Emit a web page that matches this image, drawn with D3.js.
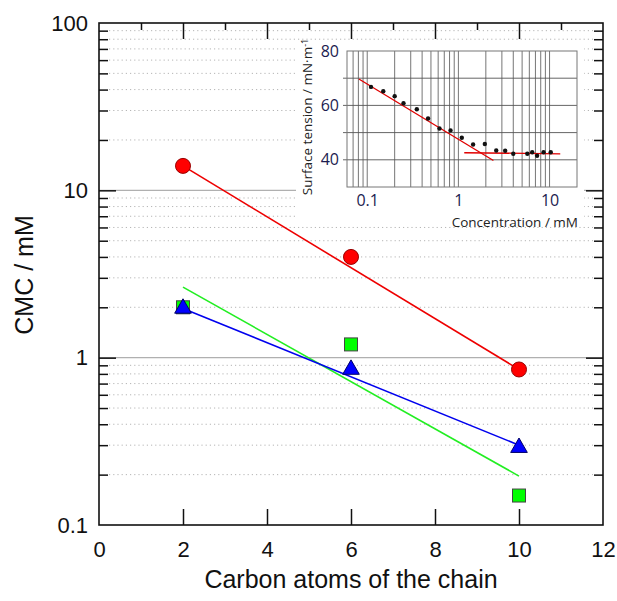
<!DOCTYPE html>
<html>
    <head>
        <meta charset="UTF-8">
        <title>CMC vs chain length</title>
        <script src="https://d3js.org/d3.v7.min.js"></script>
        <style>
            body {
                margin:0;
                padding:0;
                background: #fff;
            }
            svg { display: block; }
        </style>
    </head>
    <body>
        <div id="chart"></div>
        <script>
            // main chart data: CMC against number of carbon atoms
            var carbons = [2, 6, 10];
            var cmcRed = [14, 4.0, 0.85];
            var cmcGreen = [2.0, 1.2, 0.15];
            var cmcBlue = [1.97, 0.85, 0.29];
            // fitted lines (end points)
            var fitCarbons = [2, 10];
            var fitRed = [14, 0.85];
            var fitGreen = [2.64, 0.196];
            var fitBlue = [1.97, 0.30];
            var xTicks = [0, 2, 4, 6, 8, 10, 12];
            var yTicks = [0.1, 1, 10, 100];

            // inset data: surface tension isotherm
            var concentration = [0.11, 0.15, 0.2, 0.25, 0.35, 0.465, 0.62, 0.82, 1.09, 1.45, 1.95, 2.6, 3.26, 4.0, 5.7, 6.45, 7.3, 8.6, 10.3];
            var surfaceTension = [66.8, 65.2, 63.4, 60.8, 58.6, 55.2, 51.5, 50.8, 48.1, 45.6, 45.8, 43.4, 43.3, 42.2, 42.2, 42.8, 41.5, 42.8, 42.8];
            var fitSlopeConc = [0.081, 2.42];
            var fitSlopeTension = [69.7, 39.75];
            var fitFlatConc = [1.16, 13.1];
            var fitFlatTension = [42.6, 42.2];
            var insetXTicks = [0.1, 1, 10];
            var insetYTicks = [40, 60, 80];

            var svgWidth = 617, svgHeight = 601;
            var svg = d3.select('#chart').append('svg')
                .attr('width', svgWidth)
                .attr('height', svgHeight);

            var mainFont = '"Liberation Sans", Arial, sans-serif';
            var insetFont = '"Open Sans", "Noto Sans", sans-serif';

            // plot box (note: "top" is a reserved window property, so prefix names)
            var mLeft = 99, mRight = 603, mTop = 23, mBottom = 525;
            var x = d3.scaleLinear().domain([0, 12]).range([mLeft, mRight]);
            var y = d3.scaleLog().domain([0.1, 100]).range([mBottom, mTop]);

            // minor values of the log axis
            var minorY = [];
            [0.1, 1, 10].forEach(function (dec) {
                for (var k = 2; k <= 9; k++) minorY.push(+(k * dec).toPrecision(3));
            });

            // dotted grid lines at minor values, solid grey at 1 and 10
            svg.append('g').selectAll('line')
                .data(minorY)
                .join('line')
                .attr('x1', mLeft + 10).attr('x2', mRight - 10)
                .attr('y1', d => y(d)).attr('y2', d => y(d))
                .style('stroke', '#b5b5b5')
                .style('stroke-width', 1)
                .style('stroke-dasharray', '1.2 3');
            svg.append('g').selectAll('line')
                .data([1, 10])
                .join('line')
                .attr('x1', mLeft).attr('x2', mRight)
                .attr('y1', d => y(d)).attr('y2', d => y(d))
                .style('stroke', '#b0b0b0')
                .style('stroke-width', 1.2);

            // tick marks drawn with d3 axes, pointing inwards
            function tickAxis(axis, transform) {
                var g = svg.append('g').attr('transform', transform).call(axis);
                g.select('.domain').remove();
                g.selectAll('text').remove();
                g.selectAll('line').style('stroke', '#111').style('stroke-width', 1.5);
                return g;
            }
            tickAxis(d3.axisLeft(y).tickValues([1, 10]).tickSize(-17), `translate(${mLeft},0)`);
            tickAxis(d3.axisLeft(y).tickValues(minorY).tickSize(-9), `translate(${mLeft},0)`);
            tickAxis(d3.axisRight(y).tickValues([1, 10]).tickSize(-17), `translate(${mRight},0)`);
            tickAxis(d3.axisRight(y).tickValues(minorY).tickSize(-9), `translate(${mRight},0)`);
            tickAxis(d3.axisBottom(x).tickValues([2, 4, 6, 8, 10]).tickSize(-16), `translate(0,${mBottom})`);
            tickAxis(d3.axisTop(x).tickValues([2, 4, 6, 8, 10]).tickSize(-16), `translate(0,${mTop})`);
            tickAxis(d3.axisTop(x).tickValues([1, 3, 5, 7, 9, 11]).tickSize(-7), `translate(0,${mTop})`);

            // tick labels
            var yLab = svg.append('g').attr('transform', `translate(${mLeft},0)`)
                .call(d3.axisLeft(y).tickValues(yTicks).tickSize(0).tickPadding(11).tickFormat(d3.format('~g')));
            yLab.select('.domain').remove();
            yLab.selectAll('text').style('font-family', mainFont).style('font-size', '22px').style('fill', '#111');

            var xLab = svg.append('g').attr('transform', `translate(0,${mBottom})`)
                .call(d3.axisBottom(x).tickValues(xTicks).tickSize(0).tickPadding(16));
            xLab.select('.domain').remove();
            xLab.selectAll('text').style('font-family', mainFont).style('font-size', '22px').style('fill', '#111');

            // axis titles
            svg.append('text')
                .attr('x', (mLeft + mRight) / 2)
                .attr('y', 588)
                .attr('text-anchor', 'middle')
                .style('font-family', mainFont)
                .style('font-size', '25px')
                .style('fill', '#111')
                .text('Carbon atoms of the chain');
            svg.append('text')
                .attr('transform', 'translate(33,275) rotate(-90)')
                .attr('text-anchor', 'middle')
                .style('font-family', mainFont)
                .style('font-size', '25px')
                .style('fill', '#111')
                .text('CMC / mM');

            // fitted lines
            var fitLine = d3.line()
                .x(d => x(d[0]))
                .y(d => y(d[1]));
            [[fitGreen, '#22ee22'], [fitBlue, '#0000ee'], [fitRed, '#ee0000']].forEach(function (f) {
                svg.append('path')
                    .datum(fitCarbons.map((c, i) => [c, f[0][i]]))
                    .attr('d', fitLine)
                    .style('fill', 'none')
                    .style('stroke', f[1])
                    .style('stroke-width', 1.6);
            });

            // markers
            svg.append('g').selectAll('rect')
                .data(carbons.map((c, i) => [c, cmcGreen[i]]))
                .join('rect')
                .attr('x', d => x(d[0]) - 6.5)
                .attr('y', d => y(d[1]) - 6.5)
                .attr('width', 13).attr('height', 13)
                .style('fill', '#00ff00')
                .style('stroke', '#444')
                .style('stroke-width', 1);
            svg.append('g').selectAll('path')
                .data(carbons.map((c, i) => [c, cmcBlue[i]]))
                .join('path')
                .attr('transform', d => `translate(${x(d[0])},${y(d[1])})`)
                .attr('d', d3.symbol(d3.symbolTriangle, 120))
                .style('fill', '#0000ff')
                .style('stroke', '#000066')
                .style('stroke-width', 1);
            svg.append('g').selectAll('circle')
                .data(carbons.map((c, i) => [c, cmcRed[i]]))
                .join('circle')
                .attr('cx', d => x(d[0]))
                .attr('cy', d => y(d[1]))
                .attr('r', 7.5)
                .style('fill', '#ff0000')
                .style('stroke', '#990000')
                .style('stroke-width', 1);

            // ---------------- inset ----------------
            svg.append('rect')
                .attr('x', 296).attr('y', 44)
                .attr('width', 288).attr('height', 182)
                .style('fill', '#fff');

            var iLeft = 347, iRight = 577, iTop = 51, iBottom = 187;
            var ix = d3.scaleLog().domain([0.06, 20]).range([iLeft, iRight]);
            var iy = d3.scaleLinear().domain([30, 80]).range([iBottom, iTop]);

            // vertical grid at every minor value of the log axis
            var insetMinorX = [];
            [0.01, 0.1, 1, 10].forEach(function (dec) {
                for (var k = 1; k <= 9; k++) {
                    var v = +(k * dec).toPrecision(3);
                    if (v > 0.06 && v < 20) insetMinorX.push(v);
                }
            });
            var ig = svg.append('g');
            ig.selectAll('line.vx')
                .data(insetMinorX)
                .join('line')
                .attr('class', 'vx')
                .attr('x1', d => ix(d)).attr('x2', d => ix(d))
                .attr('y1', iTop).attr('y2', iBottom)
                .style('stroke', '#666')
                .style('stroke-width', 0.9);
            ig.selectAll('line.hy')
                .data([40, 50, 60, 70])
                .join('line')
                .attr('class', 'hy')
                .attr('x1', iLeft - 4).attr('x2', iRight)
                .attr('y1', d => iy(d)).attr('y2', d => iy(d))
                .style('stroke', '#555')
                .style('stroke-width', 0.9);
            ig.append('rect')
                .attr('x', iLeft).attr('y', iTop)
                .attr('width', iRight - iLeft).attr('height', iBottom - iTop)
                .style('fill', 'none')
                .style('stroke', '#777')
                .style('stroke-width', 1);

            // inset fits and points
            var iLine = d3.line().x(d => ix(d[0])).y(d => iy(d[1]));
            [[fitSlopeConc, fitSlopeTension], [fitFlatConc, fitFlatTension]].forEach(function (f) {
                ig.append('path')
                    .datum(f[0].map((c, i) => [c, f[1][i]]))
                    .attr('d', iLine)
                    .style('fill', 'none')
                    .style('stroke', '#e00000')
                    .style('stroke-width', 1.3);
            });
            ig.selectAll('circle')
                .data(concentration.map((c, i) => [c, surfaceTension[i]]))
                .join('circle')
                .attr('cx', d => ix(d[0]))
                .attr('cy', d => iy(d[1]))
                .attr('r', 2.2)
                .style('fill', '#111');

            // inset labels
            var iyAxis = ig.append('g').attr('transform', `translate(${iLeft},0)`)
                .call(d3.axisLeft(iy).tickValues(insetYTicks).tickSize(0).tickPadding(8));
            iyAxis.select('.domain').remove();
            iyAxis.selectAll('text').style('font-family', insetFont).style('font-size', '16px').style('fill', '#1c1c50');
            var ixAxis = ig.append('g').attr('transform', `translate(0,${iBottom})`)
                .call(d3.axisBottom(ix).tickValues(insetXTicks).tickSize(0).tickPadding(8).tickFormat(d3.format('~g')));
            ixAxis.select('.domain').remove();
            ixAxis.selectAll('text').style('font-family', insetFont).style('font-size', '16px').style('fill', '#1c1c50');

            ig.append('text')
                .attr('x', iRight + 1)
                .attr('y', 227)
                .attr('text-anchor', 'end')
                .style('font-family', insetFont)
                .style('font-size', '13.5px')
                .style('fill', '#222')
                .text('Concentration / mM');
            var yTitle = ig.append('text')
                .attr('transform', 'translate(312,117) rotate(-90)')
                .attr('text-anchor', 'middle')
                .style('font-family', insetFont)
                .style('font-size', '13.5px')
                .style('fill', '#222');
            yTitle.append('tspan').text('Surface tension / mN\u00b7m');
            yTitle.append('tspan').attr('dy', '-0.45em').style('font-size', '9px').text('-1');

            // frame on top
            svg.append('rect')
                .attr('x', mLeft).attr('y', mTop)
                .attr('width', mRight - mLeft).attr('height', mBottom - mTop)
                .style('fill', 'none')
                .style('stroke', '#111')
                .style('stroke-width', 1.6);
        </script>
    </body>
</html>
